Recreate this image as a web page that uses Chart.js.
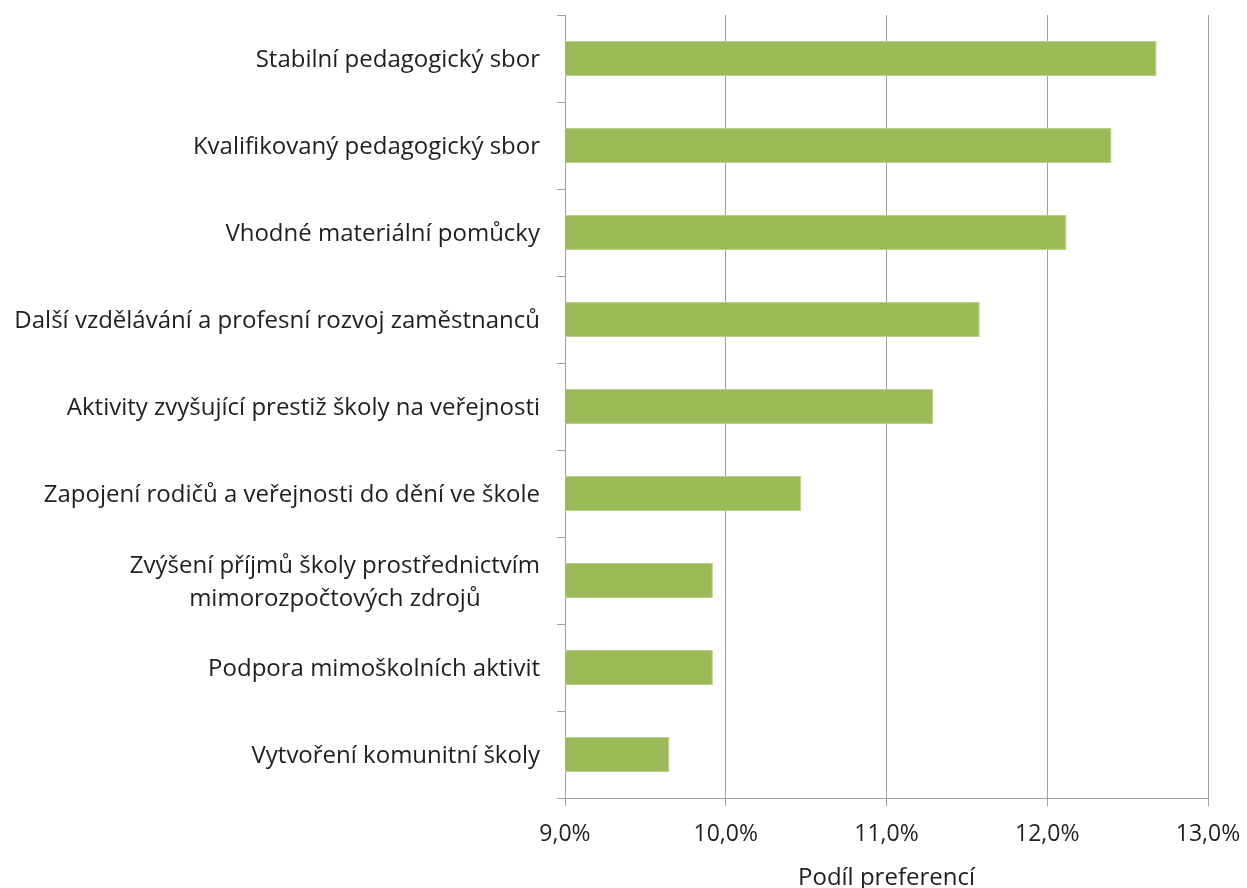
<!DOCTYPE html>
<html>
<head>
<meta charset="utf-8">
<script src="https://cdn.jsdelivr.net/npm/chart.js@4"></script>
<style>
  html, body { margin: 0; padding: 0; background: #fff; }
  #wrap { width: 1247px; height: 888px; }
</style>
</head>
<body>
<div id="wrap"><canvas id="prefChart"></canvas></div>
<script>
const categories = [
    'Stabilní pedagogický sbor',
    'Kvalifikovaný pedagogický sbor',
    'Vhodné materiální pomůcky',
    'Další vzdělávání a profesní rozvoj zaměstnanců',
    'Aktivity zvyšující prestiž školy na veřejnosti',
    'Zapojení rodičů a veřejnosti do dění ve škole',
    ['Zvýšení příjmů školy prostřednictvím', 'mimorozpočtových zdrojů'],
    'Podpora mimoškolních aktivit',
    'Vytvoření komunitní školy'
];
const shares = [12.68, 12.40, 12.12, 11.58, 11.29, 10.47, 9.92, 9.92, 9.65];
const xMin = 9;
const xMax = 13;
const axisTitle = 'Podíl preferencí';

const FONT = '"Open Sans", Lato, sans-serif';
const TEXT = '#1f1f1f';
const GRID = '#a0a0a0';

// category labels drawn by hand so the two-line one stays centred like the original
const leftLabels = {
    id: 'leftLabels',
    afterDraw(chart) {
        const y = chart.scales.y;
        const c = chart.ctx;
        c.save();
        c.font = '24px ' + FONT;
        c.fillStyle = TEXT;
        c.textAlign = 'center';
        c.textBaseline = 'middle';
        categories.forEach((lab, i) => {
            const lines = Array.isArray(lab) ? lab : [lab];
            const w = Math.max(...lines.map(l => c.measureText(l).width));
            const cx = y.right - 25 - w / 2;
            const cy = y.getPixelForValue(i) + 2;
            lines.forEach((l, j) => c.fillText(l, cx, cy + (j - (lines.length - 1) / 2) * 33));
        });
        c.restore();
    }
};

const ctx = document.getElementById('prefChart').getContext('2d');
new Chart(ctx, {
    type: 'bar',
    data: {
        labels: categories,
        datasets: [{
            data: shares,
            backgroundColor: '#9bbb59',
            borderColor: '#b7cf8c',
            borderWidth: 1,
            categoryPercentage: 1,
            barPercentage: 0.4
        }]
    },
    options: {
        indexAxis: 'y',
        responsive: true,
        maintainAspectRatio: false,
        animation: false,
        layout: { padding: { top: 15, right: 39, left: 0, bottom: 0 } },
        plugins: { legend: { display: false }, tooltip: { enabled: false } },
        scales: {
            x: {
                min: xMin,
                max: xMax,
                ticks: {
                    stepSize: 1,
                    padding: 15,
                    color: TEXT,
                    font: { family: FONT, size: 23 },
                    callback: v => v.toFixed(1).replace('.', ',') + '%'
                },
                grid: { color: GRID, lineWidth: 1, tickLength: 8 },
                border: { color: GRID },
                title: {
                    display: true,
                    text: axisTitle,
                    color: TEXT,
                    font: { family: FONT, size: 24 },
                    padding: { top: 0, bottom: -5 }
                },
                afterFit: s => { s.height = 90; s.paddingLeft = 0; s.paddingRight = 0; }
            },
            y: {
                ticks: { display: false },
                grid: { color: GRID, drawOnChartArea: false, tickLength: 8 },
                border: { color: GRID },
                afterFit: s => { s.width = 565; }
            }
        }
    },
    plugins: [leftLabels]
});
</script>
</body>
</html>
